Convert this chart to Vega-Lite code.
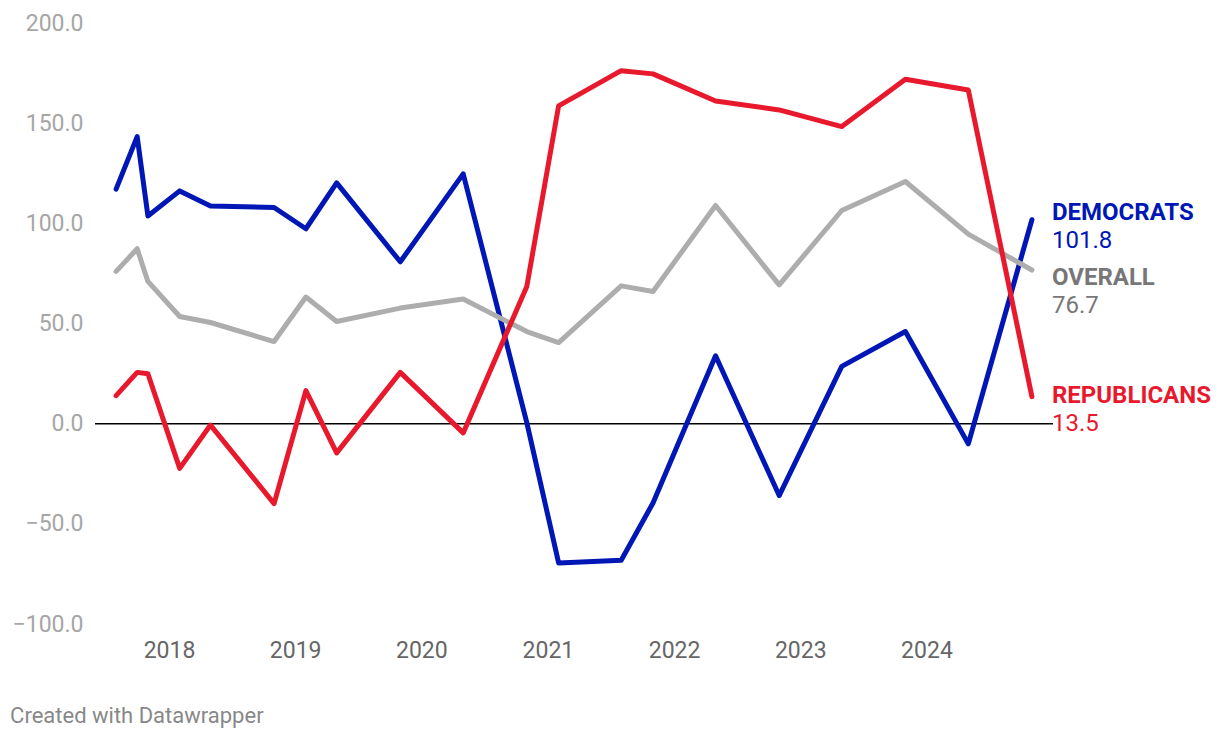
{
  "$schema": "https://vega.github.io/schema/vega-lite/v6.json",
  "width": 958,
  "height": 601,
  "autosize": {"type": "none"},
  "padding": {"left": 95, "top": 23, "right": 167, "bottom": 116},
  "background": "#ffffff",
  "config": {
    "font": "Roboto",
    "view": {"stroke": null},
    "text": {"font": "Roboto"}
  },
  "title": {
    "text": "Created with Datawrapper",
    "orient": "bottom",
    "anchor": "start",
    "frame": "bounds",
    "fontSize": 22,
    "fontWeight": "normal",
    "color": "#888888",
    "font": "Roboto",
    "offset": 44,
    "dx": -2
  },
  "datasets": {
    "poll": [
      {"date": "2017-08-01", "series": "DEMOCRATS", "value": 117.1},
      {"date": "2017-10-01", "series": "DEMOCRATS", "value": 143.3},
      {"date": "2017-11-01", "series": "DEMOCRATS", "value": 103.7},
      {"date": "2018-02-01", "series": "DEMOCRATS", "value": 116.2},
      {"date": "2018-05-01", "series": "DEMOCRATS", "value": 108.7},
      {"date": "2018-11-01", "series": "DEMOCRATS", "value": 107.9},
      {"date": "2019-02-01", "series": "DEMOCRATS", "value": 97.3},
      {"date": "2019-05-01", "series": "DEMOCRATS", "value": 120.2},
      {"date": "2019-11-01", "series": "DEMOCRATS", "value": 80.8},
      {"date": "2020-05-01", "series": "DEMOCRATS", "value": 124.7},
      {"date": "2020-11-01", "series": "DEMOCRATS", "value": 0.5},
      {"date": "2021-02-01", "series": "DEMOCRATS", "value": -69.5},
      {"date": "2021-08-01", "series": "DEMOCRATS", "value": -68.2},
      {"date": "2021-11-01", "series": "DEMOCRATS", "value": -39.6},
      {"date": "2022-05-01", "series": "DEMOCRATS", "value": 33.9},
      {"date": "2022-11-01", "series": "DEMOCRATS", "value": -35.9},
      {"date": "2023-05-01", "series": "DEMOCRATS", "value": 28.6},
      {"date": "2023-11-01", "series": "DEMOCRATS", "value": 46.0},
      {"date": "2024-05-01", "series": "DEMOCRATS", "value": -10.1},
      {"date": "2024-11-01", "series": "DEMOCRATS", "value": 101.8},
      {"date": "2017-08-01", "series": "OVERALL", "value": 76.0},
      {"date": "2017-10-01", "series": "OVERALL", "value": 87.3},
      {"date": "2017-11-01", "series": "OVERALL", "value": 71.0},
      {"date": "2018-02-01", "series": "OVERALL", "value": 53.5},
      {"date": "2018-05-01", "series": "OVERALL", "value": 50.5},
      {"date": "2018-11-01", "series": "OVERALL", "value": 41.0},
      {"date": "2019-02-01", "series": "OVERALL", "value": 63.2},
      {"date": "2019-05-01", "series": "OVERALL", "value": 51.0},
      {"date": "2019-11-01", "series": "OVERALL", "value": 57.7},
      {"date": "2020-05-01", "series": "OVERALL", "value": 62.2},
      {"date": "2020-11-01", "series": "OVERALL", "value": 46.0},
      {"date": "2021-02-01", "series": "OVERALL", "value": 40.5},
      {"date": "2021-08-01", "series": "OVERALL", "value": 68.8},
      {"date": "2021-11-01", "series": "OVERALL", "value": 66.0},
      {"date": "2022-05-01", "series": "OVERALL", "value": 108.9},
      {"date": "2022-11-01", "series": "OVERALL", "value": 69.3},
      {"date": "2023-05-01", "series": "OVERALL", "value": 106.4},
      {"date": "2023-11-01", "series": "OVERALL", "value": 120.9},
      {"date": "2024-05-01", "series": "OVERALL", "value": 94.6},
      {"date": "2024-11-01", "series": "OVERALL", "value": 76.7},
      {"date": "2017-08-01", "series": "REPUBLICANS", "value": 14.0},
      {"date": "2017-10-01", "series": "REPUBLICANS", "value": 25.6},
      {"date": "2017-11-01", "series": "REPUBLICANS", "value": 24.9},
      {"date": "2018-02-01", "series": "REPUBLICANS", "value": -22.3},
      {"date": "2018-05-01", "series": "REPUBLICANS", "value": -0.7},
      {"date": "2018-11-01", "series": "REPUBLICANS", "value": -39.9},
      {"date": "2019-02-01", "series": "REPUBLICANS", "value": 16.5},
      {"date": "2019-05-01", "series": "REPUBLICANS", "value": -14.6},
      {"date": "2019-11-01", "series": "REPUBLICANS", "value": 25.6},
      {"date": "2020-05-01", "series": "REPUBLICANS", "value": -4.6},
      {"date": "2020-11-01", "series": "REPUBLICANS", "value": 68.5},
      {"date": "2021-02-01", "series": "REPUBLICANS", "value": 158.6},
      {"date": "2021-08-01", "series": "REPUBLICANS", "value": 176.2},
      {"date": "2021-11-01", "series": "REPUBLICANS", "value": 174.6},
      {"date": "2022-05-01", "series": "REPUBLICANS", "value": 161.1},
      {"date": "2022-11-01", "series": "REPUBLICANS", "value": 156.6},
      {"date": "2023-05-01", "series": "REPUBLICANS", "value": 148.3},
      {"date": "2023-11-01", "series": "REPUBLICANS", "value": 171.9},
      {"date": "2024-05-01", "series": "REPUBLICANS", "value": 166.6},
      {"date": "2024-11-01", "series": "REPUBLICANS", "value": 13.5}
    ]
  },
  "data": {"name": "poll"},
  "encoding": {
    "x": {
      "field": "date",
      "type": "temporal",
      "scale": {"domain": ["2017-06-01", "2025-01-01"]},
      "axis": {
        "title": null,
        "format": "%Y",
        "values": ["2018-01-01", "2019-01-01", "2020-01-01", "2021-01-01", "2022-01-01", "2023-01-01", "2024-01-01"],
        "domain": false,
        "ticks": false,
        "grid": false,
        "labelFontSize": 23,
        "labelColor": "#666666",
        "labelFont": "Roboto",
        "labelPadding": 15,
        "labelFlush": false
      }
    },
    "y": {
      "field": "value",
      "type": "quantitative",
      "scale": {"domain": [-100, 200], "nice": false, "zero": false},
      "axis": {
        "title": null,
        "values": [-100, -50, 0, 50, 100, 150, 200],
        "format": ".1f",
        "domain": false,
        "ticks": false,
        "grid": false,
        "labelFontSize": 23,
        "labelColor": "#a6a6a6",
        "labelFont": "Roboto",
        "labelPadding": 12
      }
    }
  },
  "layer": [
    {
      "data": {"values": [{"base": 0}]},
      "mark": {"type": "rule", "color": "#000000", "strokeWidth": 1.5},
      "encoding": {"y": {"field": "base", "type": "quantitative"}, "x": null}
    },
    {
      "mark": {"type": "line", "strokeWidth": 5, "strokeCap": "round", "strokeJoin": "round"},
      "encoding": {
        "color": {
          "field": "series",
          "type": "nominal",
          "scale": {"domain": ["OVERALL", "DEMOCRATS", "REPUBLICANS"], "range": ["#adadad", "#0017b6", "#e8192c"]},
          "legend": null
        },
        "order": {"field": "date", "type": "temporal"},
        "detail": {"field": "series"}
      }
    },
    {
      "transform": [{"filter": "datum.series == 'DEMOCRATS' && year(datum.date) == 2024 && month(datum.date) >= 9"}],
      "mark": {"type": "text", "align": "left", "baseline": "middle", "dx": 20, "dy": -7, "fontSize": 24, "fontWeight": "bold", "color": "#0017b6"},
      "encoding": {"text": {"field": "series"}}
    },
    {
      "transform": [{"filter": "datum.series == 'DEMOCRATS' && year(datum.date) == 2024 && month(datum.date) >= 9"}],
      "mark": {"type": "text", "align": "left", "baseline": "middle", "dx": 20, "dy": 21, "fontSize": 24, "color": "#0017b6"},
      "encoding": {"text": {"field": "value", "format": ".1f"}}
    },
    {
      "transform": [{"filter": "datum.series == 'OVERALL' && year(datum.date) == 2024 && month(datum.date) >= 9"}],
      "mark": {"type": "text", "align": "left", "baseline": "middle", "dx": 20, "dy": 8, "fontSize": 24, "fontWeight": "bold", "color": "#777777"},
      "encoding": {"text": {"field": "series"}}
    },
    {
      "transform": [{"filter": "datum.series == 'OVERALL' && year(datum.date) == 2024 && month(datum.date) >= 9"}],
      "mark": {"type": "text", "align": "left", "baseline": "middle", "dx": 20, "dy": 36, "fontSize": 24, "color": "#777777"},
      "encoding": {"text": {"field": "value", "format": ".1f"}}
    },
    {
      "transform": [{"filter": "datum.series == 'REPUBLICANS' && year(datum.date) == 2024 && month(datum.date) >= 9"}],
      "mark": {"type": "text", "align": "left", "baseline": "middle", "dx": 20, "dy": -1, "fontSize": 24, "fontWeight": "bold", "color": "#e8192c"},
      "encoding": {"text": {"field": "series"}}
    },
    {
      "transform": [{"filter": "datum.series == 'REPUBLICANS' && year(datum.date) == 2024 && month(datum.date) >= 9"}],
      "mark": {"type": "text", "align": "left", "baseline": "middle", "dx": 20, "dy": 27, "fontSize": 24, "color": "#e8192c"},
      "encoding": {"text": {"field": "value", "format": ".1f"}}
    }
  ]
}
